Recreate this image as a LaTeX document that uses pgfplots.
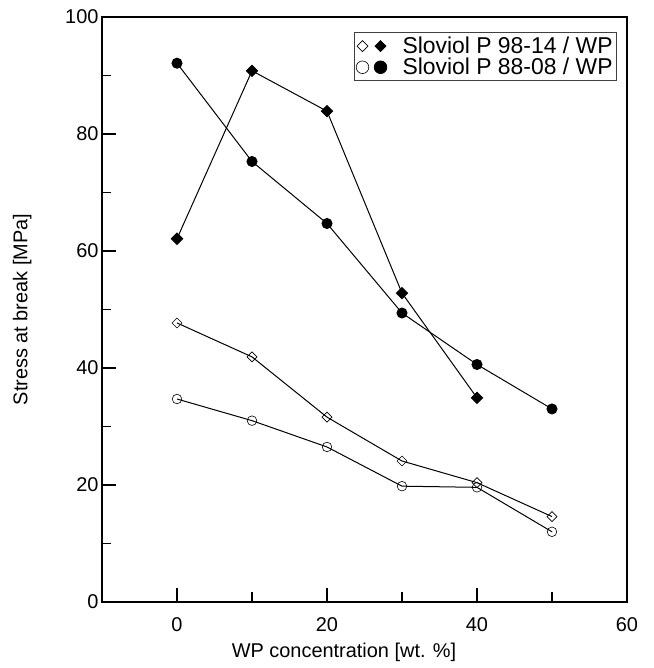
\documentclass[border=0pt]{standalone}
\usepackage{fontspec}
\setmainfont{Liberation Sans}
\usepackage{pgfplots}
\usetikzlibrary{plotmarks}
\pgfplotsset{compat=1.18}
\begin{document}
\begin{tikzpicture}
\path[use as bounding box] (-102bp,-66bp) rectangle (552bp,602bp);
\begin{axis}[
  scale only axis,
  width=525bp, height=585bp,
  xmin=-10, xmax=60, ymin=0, ymax=100,
  font=\fontsize{20}{24}\selectfont,
  /pgf/number format/assume math mode=true,
  axis line style={line width=1.4bp},
  xtick={0,20,40,60}, minor xtick={10,30,50},
  ytick={0,20,40,60,80,100}, minor ytick={10,30,50,70,90},
  tick align=inside,
  xtick pos=bottom, ytick pos=left,
  major tick length=14bp, minor tick length=9.5bp,
  every tick/.style={black, line width=1.4bp},
  xticklabel style={yshift=-12bp},
  xlabel={WP concentration [wt. \%]},
  ylabel={Stress at break [MPa]},
  xlabel style={at={(axis description cs:0.461,-0.0855)}, anchor=center},
  ylabel style={at={(axis description cs:-0.152,0.5)}, anchor=center},
  legend style={at={(rel axis cs:0.981,0.974)}, anchor=north east,
    draw=black!75, line width=0.8bp, font=\fontsize{23}{24}\selectfont,
    inner xsep=2bp, inner ysep=4bp, row sep=2bp,
    nodes={inner ysep=0.5bp}, cells={anchor=west}},
  legend cell align=left,
]
% Sloviol P 98-14 / WP, open diamonds
\addplot[black, line width=1bp, mark=diamond, mark size=5bp,
  mark options={xscale=1.33, fill=none, line width=0.6bp}, forget plot]
  coordinates {(0,47.7) (10,41.9) (20,31.6) (30,24.1) (40,20.4) (50,14.6)};
% Sloviol P 98-14 / WP, filled diamonds
\addplot[black, line width=1bp, mark=diamond*, mark size=5.6bp,
  mark options={xscale=1.33, fill=black}, forget plot]
  coordinates {(0,62.1) (10,90.8) (20,83.9) (30,52.8) (40,34.9)};
% Sloviol P 88-08 / WP, open circles
\addplot[black, line width=1bp, mark=o, mark size=4.8bp,
  mark options={fill=none, line width=0.6bp}, forget plot]
  coordinates {(0,34.7) (10,31.0) (20,26.5) (30,19.8) (40,19.6) (50,12.0)};
% Sloviol P 88-08 / WP, filled circles
\addplot[black, line width=1bp, mark=*, mark size=5bp,
  mark options={fill=black}, forget plot]
  coordinates {(0,92.1) (10,75.3) (20,64.7) (30,49.4) (40,40.6) (50,33.0)};
\addlegendimage{legend image code/.code={
  \path[draw=none, fill=none] (-6bp,-6bp) rectangle (38bp,6bp);
  \draw[black, line width=0.6bp] plot[only marks, mark=diamond, mark size=5.5bp, mark options={xscale=1.33}] coordinates {(0bp,0bp)};
  \draw[black] plot[only marks, mark=diamond*, mark size=5.5bp, mark options={xscale=1.33, fill=black}] coordinates {(18bp,0bp)};
}}
\addlegendentry{Sloviol P 98-14 / WP}
\addlegendimage{legend image code/.code={
  \path[draw=none, fill=none] (-6bp,-6bp) rectangle (38bp,6bp);
  \draw[black, line width=0.6bp] plot[only marks, mark=o, mark size=6.3bp] coordinates {(0bp,0bp)};
  \draw[black] plot[only marks, mark=*, mark size=6.3bp, mark options={fill=black}] coordinates {(18bp,0bp)};
}}
\addlegendentry{Sloviol P 88-08 / WP}
\end{axis}
\end{tikzpicture}
\end{document}
